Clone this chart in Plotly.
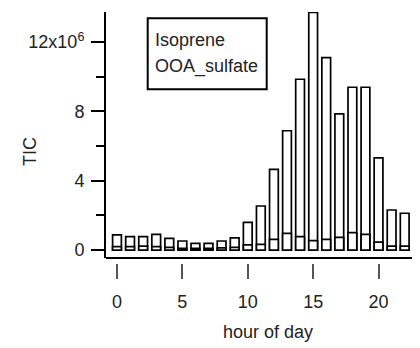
import plotly.graph_objects as go

hours = list(range(24))
isoprene = [0.87, 0.77, 0.77, 0.9, 0.67, 0.52, 0.38, 0.38, 0.52, 0.7,
            1.6, 2.54, 4.65, 6.88, 9.85, 13.7, 11.1, 7.85, 9.39, 9.39,
            5.31, 2.31, 2.12, 2.12]
ooa_sulfate = [0.2, 0.2, 0.22, 0.2, 0.15, 0.1, 0.1, 0.1, 0.12, 0.15,
               0.3, 0.33, 0.62, 0.96, 0.77, 0.54, 0.62, 0.73, 1.0, 0.9,
               0.45, 0.22, 0.22, 0.2]
scale = 1e6
xticks = [0, 5, 10, 15, 20]
yticks = [0, 4, 8, 12]
yticklabels = ["0", "4", "8", "12x10<sup>6</sup>"]
yminor = [2, 6, 10]
legend_names = ["Isoprene", "OOA_sulfate"]

FONT = "Liberation Sans, Arial, sans-serif"

# the page body has an 8px margin: figure starts at window pixel (8, 8)
OFF = 8
W, H = 420 - OFF, 348 - OFF
# plot area in window pixels: left 106, right 420, top 12, bottom 263
ML, MR, MT, MB = 106 - OFF, 0, 12 - OFF, 348 - 263
PW, PH = W - ML - MR, H - MT - MB


def px(x):  # window pixel -> paper
    return (x - OFF - ML) / PW


def py(y):  # window pixel -> paper
    return (H - MB - (y - OFF)) / PH


d0 = py(258)

fig = go.Figure()
for name, vals in zip(legend_names, [isoprene, ooa_sulfate]):
    fig.add_trace(go.Bar(
        x=hours, y=[v * scale for v in vals], name=name, width=0.67,
        marker=dict(color="white", line=dict(color="black", width=1.7)),
        showlegend=False,
    ))

fig.update_layout(
    width=W, height=H, barmode="overlay",
    margin=dict(l=ML, r=MR, t=MT, b=MB, pad=0, autoexpand=False),
    plot_bgcolor="white", paper_bgcolor="white",
    font=dict(family=FONT, size=18, color="#222"),
    xaxis=dict(
        range=[-0.84, 23.17], anchor="free", position=0, automargin=False,
        tickvals=xticks, ticks="outside", ticklen=15, tickwidth=2,
        tickcolor="#555", showline=False, showgrid=False, zeroline=False,
        ticklabelstandoff=7,
    ),
    yaxis=dict(
        domain=[d0, 1], range=[-0.46 * scale, 13.73 * scale], automargin=False,
        tickvals=[t * scale for t in yticks], ticktext=yticklabels,
        ticks="outside", ticklen=13, tickwidth=2, tickcolor="black",
        showline=True, linewidth=2, linecolor="black",
        showgrid=False, zeroline=False, ticklabelstandoff=3,
        minor=dict(tickvals=[t * scale for t in yminor], ticks="outside",
                   ticklen=8, tickwidth=2, tickcolor="black", showgrid=False),
    ),
    shapes=[
        dict(type="line", xref="paper", yref="paper", x0=0, x1=1, y0=d0, y1=d0,
             line=dict(color="black", width=2)),
        dict(type="rect", xref="paper", yref="paper",
             x0=px(147.7), x1=px(266.7), y0=py(89.3), y1=py(18.3),
             line=dict(color="black", width=2), fillcolor="white", layer="above"),
    ],
    annotations=[
        dict(text=legend_names[0], xref="paper", yref="paper", x=px(153), y=py(40),
             xanchor="left", yanchor="middle", showarrow=False),
        dict(text=legend_names[1], xref="paper", yref="paper", x=px(153), y=py(66),
             xanchor="left", yanchor="middle", showarrow=False),
        dict(text="hour of day", xref="paper", yref="paper", x=px(267.5), y=py(331.7),
             xanchor="center", yanchor="middle", showarrow=False),
        dict(text="TIC", xref="paper", yref="paper", x=px(30), y=py(152),
             xanchor="center", yanchor="middle", showarrow=False, textangle=-90),
    ],
)

fig.write_html("out.html")
